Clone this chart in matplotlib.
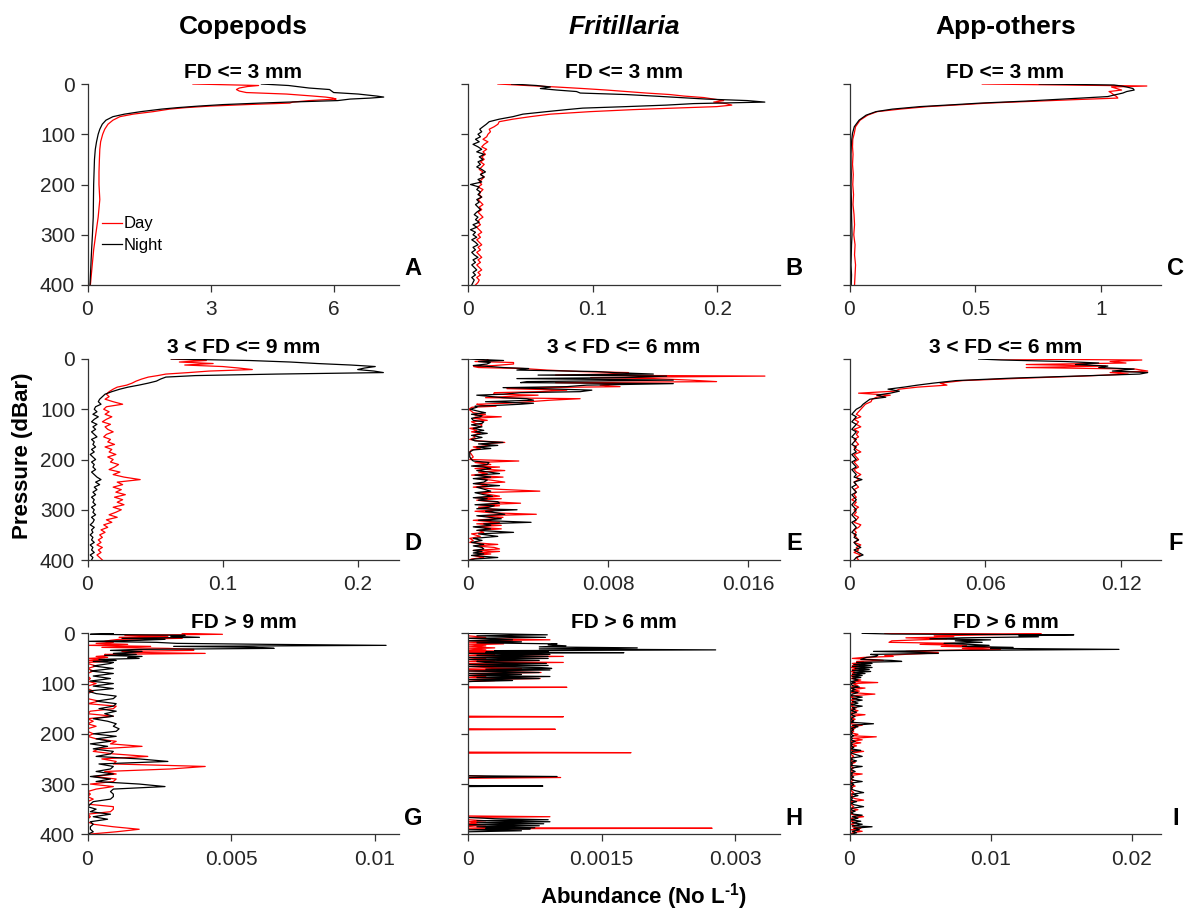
import matplotlib
matplotlib.use('Agg')
import matplotlib.pyplot as plt

plt.rcParams['font.family'] = ['Liberation Sans', 'DejaVu Sans']
plt.rcParams['mathtext.fontset'] = 'custom'
plt.rcParams['mathtext.rm'] = 'Liberation Sans:bold'
plt.rcParams['mathtext.bf'] = 'Liberation Sans:bold'

# ---------------- labels / axes settings ----------------
col_titles = ['Copepods', 'Fritillaria', 'App-others']
panel_titles = ['FD <= 3 mm', 'FD <= 3 mm', 'FD <= 3 mm',
                '3 < FD <= 9 mm', '3 < FD <= 6 mm', '3 < FD <= 6 mm',
                'FD > 9 mm', 'FD > 6 mm', 'FD > 6 mm']
panel_letters = ['A', 'B', 'C', 'D', 'E', 'F', 'G', 'H', 'I']
x_limits = [7.6, 0.25, 1.2375, 0.2308, 0.0178, 0.1376, 0.01086, 0.0035, 0.0221]
x_ticks = [[0, 3, 6], [0, 0.1, 0.2], [0, 0.5, 1],
           [0, 0.1, 0.2], [0, 0.008, 0.016], [0, 0.06, 0.12],
           [0, 0.005, 0.01], [0, 0.0015, 0.003], [0, 0.01, 0.02]]
x_ticklabels = [['0', '3', '6'], ['0', '0.1', '0.2'], ['0', '0.5', '1'],
                ['0', '0.1', '0.2'], ['0', '0.008', '0.016'], ['0', '0.06', '0.12'],
                ['0', '0.005', '0.01'], ['0', '0.0015', '0.003'], ['0', '0.01', '0.02']]
y_ticks = [0, 100, 200, 300, 400]
series_names = ['Day', 'Night']

# ---------------- data: (pressure dBar, Day, Night) ----------------
A_rows = [
    (0, 2.57, 4.24), (3, 4.17, 4.90), (5, 3.90, 5.10), (8, 3.70, 5.40), (11, 3.63, 5.90),
    (14, 3.70, 5.95), (17, 3.87, 6.00), (20, 4.85, 6.60), (24, 5.50, 7.05), (26, 5.80, 7.22),
    (28, 5.98, 6.90), (30, 6.06, 6.40), (33, 5.41, 6.10), (36, 5.00, 4.90), (38, 4.93, 4.20),
    (41, 3.87, 3.30), (44, 2.98, 2.70), (47, 2.40, 2.20), (50, 2.00, 1.80), (55, 1.60, 1.30),
    (60, 1.11, 0.90), (65, 0.79, 0.62), (72, 0.62, 0.45), (80, 0.50, 0.36), (90, 0.42, 0.30),
    (100, 0.37, 0.26), (115, 0.32, 0.22), (130, 0.30, 0.19), (150, 0.29, 0.17), (175, 0.28, 0.16),
    (200, 0.28, 0.15), (230, 0.30, 0.145), (265, 0.26, 0.14), (300, 0.20, 0.12), (330, 0.15, 0.10),
    (365, 0.11, 0.08), (400, 0.07, 0.06),
]

B_rows = [
    (0, .024, .035), (3, .047, .055), (6, .071, .066), (9, .092, .058), (12, .111, .071),
    (15, .127, .087), (18, .143, .090), (21, .162, .127), (24, .173, .149), (27, .189, .170),
    (30, .197, .191), (33, .205, .224), (36, .197, .238), (39, .207, .181), (42, .2115, .159),
    (45, .1995, .127), (48, .165, .092), (51, .1325, .079), (55, .098, .063), (60, .066, .044),
    (65, .050, .036), (70, .036, .025), (75, .025, .017), (80, .024, .0147), (85, .021, .012),
    (90, .017, .0094), (95, .018, .011), (100, .016, .008),
    (105, .015, .010), (110, .012, .006), (115, .016, .009), (120, .013, .004), (125, .011, .008),
    (130, .015, .011), (135, .012, .007), (140, .014, .013), (145, .011, .009), (150, .013, .012),
    (155, .010, .008), (160, .013, .010), (165, .011, .007), (170, .009, .011), (175, .012, .014),
    (180, .010, .010), (185, .013, .013), (190, .011, .008), (195, .009, .011), (200, .011, .002),
    (205, .008, .009), (210, .012, .007), (215, .010, .010), (220, .009, .008), (225, .011, .011),
    (230, .008, .007), (235, .010, .009), (240, .012, .006), (245, .009, .008), (250, .011, .010),
    (255, .008, .007), (260, .010, .005), (265, .012, .008), (270, .009, .006), (275, .008, .009),
    (280, .010, .004), (285, .007, .007), (290, .009, .002), (295, .011, .006), (300, .008, .004),
    (305, .010, .007), (310, .007, .003), (315, .009, .006), (320, .011, .008), (325, .008, .004),
    (330, .010, .006), (335, .007, .003), (340, .009, .005), (345, .011, .008), (350, .008, .004),
    (355, .010, .006), (360, .007, .003), (365, .009, .005), (370, .011, .007), (375, .008, .004),
    (380, .010, .006), (385, .007, .003), (390, .009, .005), (395, .008, .004), (400, .006, .003),
]

C_rows = [
    (0, .527, .753), (2, .85, 1.05), (4, 1.18, 1.08), (6, 1.04, 1.10), (9, 1.06, 1.125),
    (12, 1.08, 1.13), (15, 1.03, 1.10), (18, 1.04, 1.085), (22, 1.05, 1.05), (25, 1.06, 1.025),
    (28, 1.065, .92), (31, .90, .81), (34, .75, .70), (38, .55, .52), (41, .45, .42),
    (45, .31, .28), (50, .20, .17), (55, .11, .105), (62, .072, .066), (72, .042, .038),
    (85, .024, .019), (98, .019, .012), (110, .013, .009), (125, .012, .007), (140, .014, .006),
    (160, .012, .006), (180, .015, .007), (200, .013, .006), (220, .016, .007), (240, .014, .008),
    (260, .018, .008), (280, .020, .009), (300, .017, .010), (320, .022, .008), (340, .020, .007),
    (360, .024, .006), (380, .022, .008), (400, .020, .007),
]

D_rows = [
    (0, .062, .062), (3, .088, .120), (6, .068, .150), (9, .093, .170), (12, .072, .195),
    (15, .100, .213), (18, .112, .205), (21, .122, .200), (24, .090, .212), (27, .075, .219),
    (30, .058, .140), (33, .052, .080), (36, .045, .058), (40, .040, .054), (44, .036, .051),
    (48, .033, .045), (52, .029, .038), (56, .022, .030), (60, .019, .024), (65, .016, .018),
    (70, .014, .013), (75, .016, .011), (80, .013, .009), (85, .019, .008), (90, .026, .010),
    (95, .014, .006), (100, .012, .005),
    (105, .016, .007), (110, .013, .004), (115, .018, .008), (120, .014, .005), (125, .011, .003),
    (130, .017, .007), (135, .013, .004), (140, .015, .006), (145, .019, .003), (150, .014, .005),
    (155, .012, .007), (160, .017, .003), (165, .015, .005), (170, .020, .004), (175, .013, .006),
    (180, .018, .003), (185, .016, .005), (190, .021, .002), (195, .015, .004), (200, .019, .006),
    (205, .017, .003), (210, .023, .005), (215, .020, .004), (220, .016, .006), (225, .024, .003),
    (230, .019, .005), (235, .027, .007), (240, .039, .010), (245, .022, .006), (250, .026, .009),
    (255, .019, .005), (260, .025, .007), (265, .021, .004), (270, .028, .006), (275, .020, .003),
    (280, .026, .005), (285, .022, .004), (290, .027, .006), (295, .019, .003), (300, .025, .005),
    (305, .021, .004), (310, .016, .006), (315, .022, .003), (320, .014, .005), (325, .018, .004),
    (330, .012, .002), (335, .015, .005), (340, .010, .003), (345, .013, .004), (350, .009, .002),
    (355, .011, .004), (360, .008, .003), (365, .010, .005), (370, .007, .002), (375, .011, .004),
    (380, .008, .003), (385, .010, .005), (390, .007, .002), (395, .009, .004), (400, .011, .003),
]

E_rows = [
    (0, .00108, .00004), (3, .00118, .00203), (5, .0004, .0006), (7, .0026, .00127),
    (10, .0026, .00108), (13, .0015, .0003), (15, .00032, .00127), (17, .0006, .0020),
    (19, .00317, .00346), (22, .0045, .00279), (25, .0064, .00735), (27, .00916, .0083),
    (30, .00792, .01058), (32, .0050, .0040), (34, .01695, .01134), (37, .0070, .0090),
    (39, .01058, .00279), (42, .01267, .01172), (45, .01419, .00336), (47, .0050, .0030),
    (49, .00868, .01172), (52, .00754, .00678), (55, .00868, .00564), (57, .0040, .0020),
    (59, .00222, .00431), (62, .00564, .00707), (65, .00412, .0064), (67, .0015, .0030),
    (70, .00146, .00203), (72, .0040, .0005), (74, .0026, .00108), (77, .0010, .0020),
    (79, .0064, .00336), (82, .00469, .00374), (85, .0035, .0010), (88, .00222, .00374),
    (90, .0005, .0030), (92, .0007, .00184), (94, .0016, .0004), (96, .00023, .00051),
    (100, .00004, .00013),
    (104, .0002, .0006), (107, .0003, .0010), (110, .0010, .0002), (113, .0004, .0008),
    (115, .0019, .0007), (118, .0003, .0002), (122, .0011, .0003), (125, .0002, .0009),
    (128, .0004, .0008), (131, .0008, .0002), (135, .0007, .0008), (138, .0001, .0003),
    (142, .0005, .0009), (145, .0002, .0004), (148, .0007, .0011), (152, .0003, .0002),
    (156, .0004, .0008), (160, .0001, .0002), (163, .0006, .0004), (166, .0021, .0020),
    (169, .0008, .0006), (172, .0013, .0017), (175, .0003, .0005), (178, .0007, .0013),
    (181, .0002, .0003), (185, .0001, .0001), (190, .0002, .0001), (195, .0003, .0001),
    (200, .0001, .0002), (203, .0029, .0003), (206, .0004, .0012), (210, .0013, .0011),
    (213, .0003, .0002), (215, .0018, .0009), (218, .0004, .0013), (222, .0021, .0005),
    (225, .0006, .0012), (228, .0011, .0018), (231, .0002, .0004), (235, .0020, .0013),
    (238, .0005, .0003), (241, .0013, .0011), (245, .0021, .0009), (248, .0004, .0003),
    (252, .0011, .0018), (255, .0003, .0005), (259, .0016, .0009), (263, .0041, .0013),
    (266, .0006, .0004), (270, .0013, .0009), (273, .0018, .0014), (276, .0004, .0003),
    (278, .0019, .0011), (281, .0005, .0006), (284, .0013, .0017), (287, .0030, .0018),
    (290, .0007, .0004), (292, .0018, .0015), (295, .0006, .0012), (298, .0012, .0005),
    (300, .0019, .0028), (303, .0004, .0010), (306, .0013, .0016), (309, .0039, .0021),
    (312, .0006, .0005), (315, .0020, .0012), (318, .0015, .0019), (321, .0003, .0006),
    (325, .0018, .0036), (328, .0005, .0009), (331, .0019, .0013), (334, .0004, .0003),
    (338, .0019, .0013), (341, .0006, .0005), (345, .0009, .0026), (348, .0002, .0006),
    (353, .0007, .0017), (357, .0001, .0003), (361, .0003, .0008), (365, .0001, .0002),
    (369, .0017, .0009), (372, .0004, .0003), (375, .0015, .0008), (378, .0018, .0009),
    (381, .0003, .0003), (383, .0018, .0008), (386, .0006, .0003), (388, .0013, .0009),
    (391, .0003, .0002), (395, .0009, .0017), (398, .0002, .0004), (400, .0001, .0001),
]

F_rows = [
    (0, .064, .057), (2, .129, .067), (5, .115, .095), (8, .122, .110), (11, .078, .0997),
    (14, .113, .114), (17, .078, .110), (20, .126, .1256), (24, .1316, .116), (27, .115, .1316),
    (30, .123, .128), (34, .103, .100), (38, .078, .072), (43, .050, .047), (48, .040, .037),
    (52, .043, .030), (56, .030, .024), (60, .022, .017), (64, .020, .022), (68, .004, .018),
    (72, .018, .012), (76, .012, .016), (80, .010, .009), (85, .0095, .0075), (90, .007, .006),
    (95, .006, .005), (100, .005, .003),
    (105, .004, .002), (110, .003, .001), (115, .005, .003), (120, .002, .002), (125, .004, .001),
    (130, .003, .003), (135, .005, .002), (140, .002, .001), (145, .004, .003), (150, .003, .002),
    (155, .004, .001), (160, .002, .003), (165, .003, .002), (170, .004, .001), (175, .002, .003),
    (180, .003, .002), (185, .005, .003), (190, .002, .001), (195, .003, .002), (200, .004, .003),
    (205, .002, .001), (210, .003, .002), (215, .004, .003), (220, .002, .001), (225, .003, .002),
    (230, .005, .003), (235, .003, .002), (240, .004, .0055), (245, .002, .002), (250, .003, .003),
    (255, .004, .001), (260, .002, .002), (265, .003, .003), (270, .002, .001), (275, .003, .002),
    (280, .001, .003), (285, .003, .002), (290, .002, .001), (295, .004, .002), (300, .002, .003),
    (305, .003, .002), (310, .002, .001), (315, .004, .002), (320, .003, .003), (325, .002, .001),
    (330, .005, .002), (335, .004, .003), (340, .002, .002), (345, .003, .001), (350, .002, .003),
    (355, .003, .002), (360, .004, .004), (365, .002, .002), (370, .005, .003), (375, .003, .005),
    (380, .004, .002), (385, .002, .004), (390, .005, .006), (395, .003, .003), (400, .004, .002),
]

G_rows = [
    (0, .0033, .0009), (2, .0047, .0001), (4, .0013, .0034), (6, .0028, .0029), (8, .0011, .0039),
    (10, .0033, .0012), (12, .0011, .0027), (14, .0008, .0018), (16, .0006, .0000), (18, .0009, .0024),
    (20, .0003, .0031), (22, .0014, .0063), (24, .0000, .0104), (26, .0022, .0030), (28, .0005, .0058),
    (30, .0028, .0065), (32, .0037, .0018), (34, .0037, .0008), (36, .0012, .0019), (38, .0015, .0015),
    (40, .0041, .0009), (42, .0006, .0017), (44, .0008, .0006), (46, .0003, .0019), (48, .0007, .0014),
    (50, .0000, .0018), (52, .0006, .0004), (54, .0000, .0010), (56, .0007, .0002), (58, .0000, .0009),
    (60, .0000, .0008), (65, .0003, .0002), (70, .0000, .0009), (75, .0002, .0001), (80, .0000, .0009),
    (85, .0000, .0002), (90, .0001, .0008), (95, .0000, .0001), (100, .0003, .0009), (105, .0000, .0002),
    (110, .0000, .0009), (115, .0002, .0000), (120, .0000, .0003), (125, .0000, .0010), (130, .0000, .0009),
    (135, .0004, .0003), (140, .0000, .0010), (145, .0010, .0009), (150, .0009, .0004), (155, .0001, .0010),
    (160, .0000, .0006), (165, .0009, .0009), (170, .0000, .0002), (175, .0002, .0007), (180, .0000, .0010),
    (185, .0003, .0009), (190, .0000, .0011), (195, .0000, .0010), (200, .0002, .0002), (205, .0000, .0010),
    (210, .0003, .0003), (215, .0010, .0008), (220, .0008, .0001), (225, .0019, .0007), (230, .0004, .0002),
    (235, .0002, .0009), (240, .0009, .0008), (245, .0021, .0003), (250, .0005, .0018), (255, .0010, .0028),
    (260, .0009, .0004), (265, .0041, .0009), (270, .0029, .0008), (275, .0006, .0003), (280, .0010, .0009),
    (285, .0002, .0001), (290, .0010, .0008), (295, .0009, .0003), (300, .0001, .0018), (305, .0009, .0027),
    (310, .0003, .0009), (315, .0000, .0008), (320, .0001, .0009), (325, .0000, .0009), (330, .0002, .0008),
    (335, .0000, .0002), (340, .0000, .0001), (345, .0009, .0000), (350, .0009, .0003), (355, .0008, .0001),
    (360, .0000, .0008), (365, .0001, .0002), (370, .0000, .0007), (375, .0000, .0001), (380, .0002, .0002),
    (385, .0009, .0001), (390, .0018, .0001), (395, .0010, .0002), (400, .0000, .0000),
]

H_rows = [
    (0, 0, 0), (3, 0, .00089), (5, 0, .0001), (8, .0002, .00087), (10, 0, 0),
    (13, .00092, .0005), (15, 0, 0), (17, .0003, .0006), (19, 0, .0001), (21, .0004, .0010),
    (23, 0, .0009), (25, .0002, .0011), (27, 0, .0008), (29, .0003, .0019), (31, 0, .0008),
    (33, .0002, .00278), (34.5, 0, .0003), (36, .00081, .0009), (37.5, 0, .0002), (38.5, .0002, .00175),
    (40, 0, 0), (42, .0003, .00092), (44, 0, .0001), (46, .00107, .0009), (48, 0, 0),
    (50, .0002, .0009), (52, 0, 0), (54, .0003, .0008), (56, 0, .0001), (58, .00107, .0002),
    (60, 0, .00088), (62, 0, 0), (64, .0004, .0009), (66, 0, 0), (68, .0002, .0008),
    (70, .0006, .00094), (71.5, 0, .0002), (73, .0003, .00092), (75, 0, 0), (78, .00082, .0008),
    (80, 0, 0), (82, .0004, .0006), (84, 0, 0), (86, .0002, .00092), (88, 0, .0001),
    (90, .00081, .0008), (92, 0, 0), (94, .0003, .0005), (96, 0, 0),
    (106.5, 0, 0), (107.5, .00111, 0), (108.5, 0, 0),
    (165, 0, 0), (166, .00107, 0), (167, 0, 0),
    (190, 0, 0), (191, .00098, 0), (192, 0, 0),
    (236.5, 0, 0), (237.5, .00183, 0), (238.5, 0, 0),
    (283.5, 0, 0), (285, .0002, .0010), (287, .00104, 0), (288.5, 0, 0),
    (303, 0, 0), (304, 0, .00084), (305, 0, 0),
    (363.5, 0, 0), (365, .00092, 0), (366.5, 0, 0),
    (369, 0, .0003), (371, 0, .0009), (373, .0002, .0001), (375, 0, .00092), (377, .0001, .0001),
    (379, 0, .00085), (381, .0002, 0), (383, 0, .0008), (385, 0, .0001), (387, .0003, .00075),
    (388, .00274, .0002), (389, 0, .0007), (391, 0, 0), (393, 0, .0006), (395, 0, 0), (400, 0, 0),
]

I_rows = [
    (0, .0025, .0009), (1.5, .0136, .0030), (3, .0100, .0159), (5, .0060, .0120), (7, .0074, .0134),
    (9, .0040, .0080), (11, .0069, .0057), (13, .0050, .0100), (15, .0030, .0075), (18, .0028, .0094),
    (20, .0075, .0067), (22, .0050, .0085), (24, .0083, .0099), (26, .0065, .0080), (28, .0100, .0116),
    (30, .0080, .0100), (32, .0107, .0191), (34, .0060, .0080), (36, .0040, .0017), (38, .0063, .0050),
    (40, .0055, .0063), (42, .0039, .0015), (44, .0025, .0020), (46, .0031, .0019), (48, .0010, .0012),
    (50, .0002, .0010), (52, .0015, .0008), (54, .0024, .0030), (56, .0005, .0037), (58, .0010, .0005),
    (60, .0002, .0016), (62, .0008, .0003), (64, .0002, .0015), (66, .0006, .0002), (68, .0001, .0016),
    (70, .0007, .0004), (72, .0002, .0014), (74, .0005, .0002), (76, .0001, .0015), (78, .0004, .0003),
    (80, .0002, .0011), (82, .0006, .0002), (84, .0001, .0009), (86, .0002, .0002), (88, .0004, .0008),
    (90, .0001, .0002), (93, .0008, .0006), (96, .0003, .0001), (98, .0020, .0004), (100, .0002, .0001),
    (104, .0006, .0002), (107, .0001, .0007), (109, .0011, .0001), (112, .0002, .0004), (115, .0007, .0001),
    (118, .0001, .0006), (121, .0018, .0002), (124, .0003, .0001), (127, .0001, .0009), (130, .0005, .0002),
    (133, .0001, .0009), (136, .0004, .0002), (139, .0001, .0006), (142, .0003, .0001), (145, .0001, .0009),
    (148, .0005, .0002), (151, .0001, .0004), (154, .0006, .0001), (157, .0002, .0005), (160, .0001, .0002),
    (162, .0011, .0001), (165, .0002, .0004), (168, .0001, .0002), (171, .0004, .0001), (174, .0001, .0003),
    (177, .0002, .0001), (180, .0001, .0017), (183, .0009, .0002), (186, .0001, .0006), (189, .0004, .0001),
    (192, .0001, .0003), (195, .0003, .0001), (198, .0001, .0002), (201, .0006, .0001), (204, .0002, .0003),
    (206, .0019, .0001), (209, .0002, .0002), (212, .0009, .0001), (215, .0001, .0004), (218, .0008, .0001),
    (221, .0001, .0002), (224, .0005, .0001), (227, .0001, .0003), (230, .0002, .0001), (233, .0001, .0008),
    (235, .0010, .0002), (238, .0002, .0001), (241, .0001, .0004), (245, .0003, .0009), (248, .0001, .0002),
    (251, .0002, .0001), (254, .0001, .0005), (257, .0004, .0001), (260, .0001, .0002), (263, .0002, .0001),
    (265, .0001, .0009), (268, .0003, .0002), (271, .0001, .0001), (275, .0002, .0004), (278, .0001, .0001),
    (280, .0009, .0002), (283, .0001, .0001), (286, .0002, .0003), (289, .0001, .0001), (292, .0003, .0002),
    (295, .0001, .0009), (298, .0002, .0001), (301, .0001, .0003), (304, .0004, .0001), (307, .0001, .0002),
    (310, .0002, .0001), (313, .0001, .0004), (317, .0003, .0010), (320, .0001, .0002), (323, .0002, .0006),
    (326, .0001, .0001), (329, .0004, .0002), (332, .0010, .0001), (335, .0001, .0005), (338, .0002, .0001),
    (341, .0001, .0003), (345, .0003, .0010), (348, .0001, .0002), (351, .0006, .0001), (354, .0001, .0004),
    (357, .0002, .0001), (360, .0001, .0003), (362, .0004, .0009), (365, .0010, .0002), (368, .0001, .0006),
    (371, .0003, .0001), (374, .0001, .0008), (377, .0005, .0002), (380, .0001, .0009), (383, .0004, .0002),
    (385, .0002, .0016), (388, .0008, .0003), (391, .0001, .0007), (394, .0009, .0002), (397, .0002, .0005),
    (400, .0001, .0001),
]

panel_tables = [A_rows, B_rows, C_rows, D_rows, E_rows, F_rows, G_rows, H_rows, I_rows]

# ---------------- figure ----------------
W, H = 1187, 914
fig = plt.figure(figsize=(W / 100, H / 100), dpi=100)

col_left = [87.5, 468.0, 849.5]
col_width = 311.8
row_top = [84.0, 359.0, 633.3]
row_height = 201.0
axis_color = '#333333'
text_color = '#262626'

for i, rows in enumerate(panel_tables):
    r, c = divmod(i, 3)
    ax = fig.add_axes([col_left[c] / W, 1 - (row_top[r] + row_height) / H,
                       col_width / W, row_height / H])
    depth = [row[0] for row in rows]
    day = [row[1] for row in rows]
    night = [row[2] for row in rows]
    ax.plot(day, depth, color='#ff0000', lw=0.9, label=series_names[0])
    ax.plot(night, depth, color='#000000', lw=0.9, label=series_names[1])

    ax.set_ylim(400, 0)
    ax.set_xlim(0, x_limits[i])
    ax.set_yticks(y_ticks)
    if c == 0:
        ax.set_yticklabels([str(v) for v in y_ticks])
    else:
        ax.set_yticklabels([])
    ax.set_xticks(x_ticks[i])
    ax.set_xticklabels(x_ticklabels[i])

    for s in ['top', 'right']:
        ax.spines[s].set_visible(False)
    for s in ['left', 'bottom']:
        ax.spines[s].set_color(axis_color)
        ax.spines[s].set_linewidth(0.9)
    ax.tick_params(direction='out', length=5, width=0.9, color=axis_color,
                   labelsize=15, labelcolor=text_color, pad=4)
    ax.tick_params(axis='x', pad=6)

    ax.set_title(panel_titles[i], fontsize=15, fontweight='bold', pad=4)
    ax.text(1.045, 0.08, panel_letters[i], transform=ax.transAxes,
            fontsize=17, fontweight='bold', ha='center', va='center')

    if i == 0:
        ax.legend(loc='center left', bbox_to_anchor=(0.045, 0.25), frameon=False,
                  fontsize=12, handlelength=1.2, handletextpad=0.15,
                  labelspacing=0.4, borderpad=0, borderaxespad=0)

# column titles
col_centers = [col_left[k] + col_width / 2 for k in range(3)]
for k, t in enumerate(col_titles):
    fig.text(col_centers[k] / W, 1 - 27 / H, t, fontsize=19, fontweight='bold',
             fontstyle='italic' if k == 1 else 'normal', ha='center', va='center')

fig.text(23 / W, 1 - 456 / H, 'Pressure (dBar)', rotation=90, fontsize=16,
         fontweight='bold', ha='center', va='center')
fig.text(644 / W, 1 - 897 / H, r'Abundance (No L$^{\text{-1}}$)', fontsize=16,
         fontweight='bold', ha='center', va='center')

fig.savefig('out.png', dpi=100)
